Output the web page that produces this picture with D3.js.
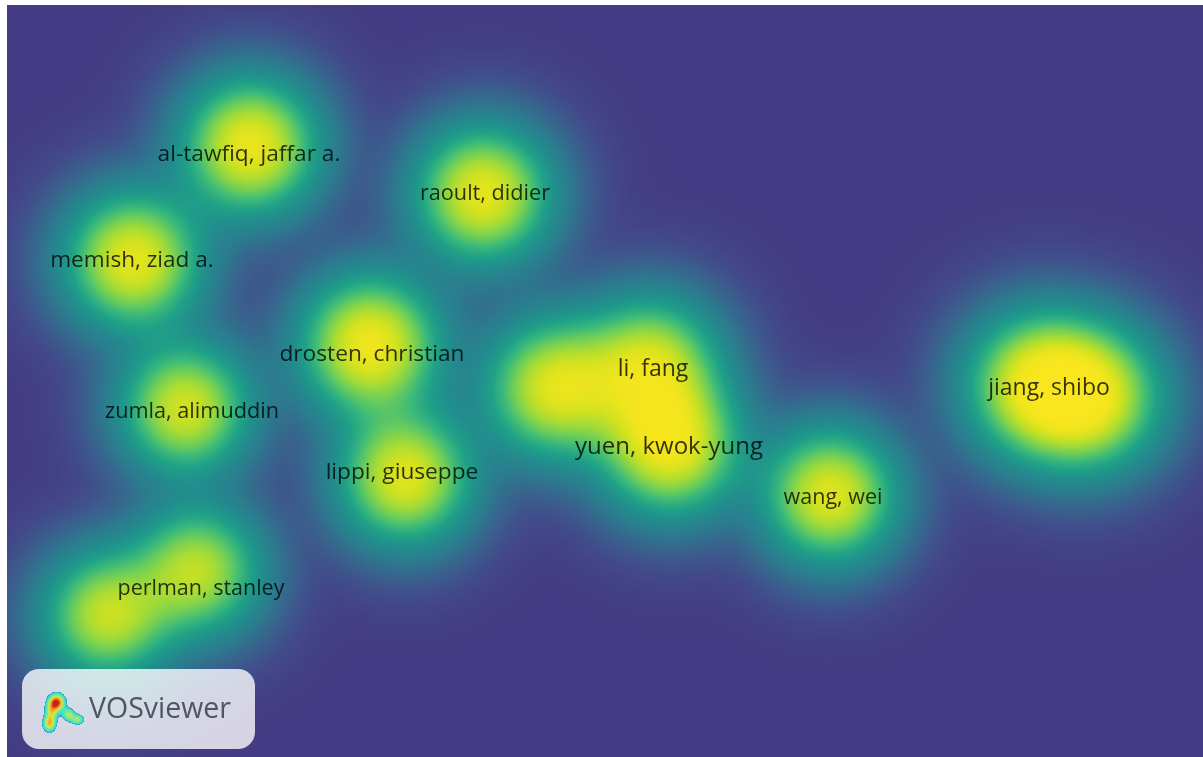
<!DOCTYPE html>
<html><head><meta charset="utf-8">
<script src="https://cdn.jsdelivr.net/npm/d3@7"></script>
<style>
html,body{margin:0;padding:0;background:#fff;overflow:hidden}
#wrap{position:relative;width:1203px;height:757px}
canvas,svg{position:absolute;left:0;top:0}
text{font-family:"Open Sans","Noto Sans",sans-serif}
</style></head><body><div id="wrap"><canvas id="c" width="1203" height="757"></canvas><svg id="s" width="1203" height="757"></svg></div>
<script>
// map coordinates (arbitrary VOS map units, 0-1196 by 0-752)
const nodeX =   [243,476,126,363,178,398,643,548,663,823,1030,1083,190,100];
const nodeY =   [141,189,255,340,403,472,360,383,440,490,380,392,565,610];
const nodeW =   [0.90,0.88,0.88,0.92,0.82,0.86,0.80,0.85,0.90,0.86,0.84,0.84,0.76,0.78];
const nodeS =   [51,51,51,52,49,50,52,52,52,50,54,54,49,49];
const labels =  ["al-tawfiq, jaffar a.","raoult, didier","memish, ziad a.","drosten, christian","zumla, alimuddin","lippi, giuseppe","li, fang","yuen, kwok-yung","wang, wei","jiang, shibo","perlman, stanley"];
const labelX =  [242,478,125,365,185,395,646,662,826,1042,194];
const labelY =  [150,189,256,350,407,468,365,443,493,384,584];
const labelSz = [22.7,21.7,22.6,22.7,21.7,22.7,23,24,21.5,23,21.5];
const colorDomain = [0,0.04,0.1,0.2,0.32,0.42,0.52,0.62,0.72,0.82,0.92,1.05];
const colorRange = ["#443c84","#424a8a","#3a5f8d","#2c7a8e","#218e8d","#1fa187","#3bb97a","#6ece58","#a5db36","#d2e21f","#f0e51d","#fae61f"];
const logoX = [14,9,7,26,35];
const logoY = [15,24,36,27,32];
const logoW = [1.05,0.5,0.68,0.5,0.48];
const logoSx= [5.2,4.2,4.2,4.2,4.4];
const logoSy= [5.4,6,5.4,4.2,3.4];
const logoStopsD=[0,0.08,0.22,0.45,0.7,0.9];
const logoStopsC=["#2a9fb5","#3ad8da","#62e8a8","#dce83a","#f08c20","#c81e1e"];

const ox=7, oy=5, W=1196, H=752, P=1.5;
const xS=d3.scaleLinear().domain([0,W]).range([ox,ox+W]);
const yS=d3.scaleLinear().domain([0,H]).range([oy,oy+H]);
const col=d3.scaleLinear().domain(colorDomain).range(colorRange).clamp(true);
const ctx=document.getElementById('c').getContext('2d');
const img=ctx.createImageData(W,H);
const lut=d3.range(1101).map(i=>d3.rgb(col(i/1000)));
for(let j=0;j<H;j++)for(let i=0;i<W;i++){
  let v=0;const px=i+ox,py=j+oy;
  for(let k=0;k<nodeX.length;k++){
    const dx=px-xS(nodeX[k]),dy=py-yS(nodeY[k]),s=nodeS[k];
    const g=nodeW[k]*Math.exp(-(dx*dx+dy*dy)/(2*s*s));
    v+=Math.pow(g,P);
  }
  v=Math.pow(v,1/P);
  const c=lut[Math.min(1100,Math.round(v*1000))],o=(j*W+i)*4;
  img.data[o]=c.r;img.data[o+1]=c.g;img.data[o+2]=c.b;img.data[o+3]=255;
}
ctx.putImageData(img,ox,oy);

// watermark panel
ctx.fillStyle="rgba(255,255,255,0.78)";
ctx.beginPath();ctx.roundRect(22,669,233,80,17);ctx.fill();
// logo heat blob
const lx=d3.scaleLinear().domain([0,40]).range([42,82]);
const ly=d3.scaleLinear().domain([0,46]).range([687,733]);
const lc=d3.scaleLinear().domain(logoStopsD).range(logoStopsC).clamp(true);
const lImg=ctx.getImageData(36,681,52,58);
for(let j=0;j<58;j++)for(let i=0;i<52;i++){
  let v=0;
  for(let k=0;k<logoX.length;k++){
    const dx=(i+36-lx(logoX[k]))/logoSx[k],dy=(j+681-ly(logoY[k]))/logoSy[k];
    v+=logoW[k]*Math.exp(-(dx*dx+dy*dy)/2);
  }
  if(v>0.14){const c=d3.rgb(lc(v-0.14)),o=(j*52+i)*4;
    lImg.data[o]=c.r;lImg.data[o+1]=c.g;lImg.data[o+2]=c.b;}
}
ctx.putImageData(lImg,36,681);

const svg=d3.select('#s');
svg.selectAll('text.l').data(labels).join('text').attr('class','l')
 .attr('x',(d,i)=>xS(labelX[i])).attr('y',(d,i)=>yS(labelY[i]))
 .attr('text-anchor','middle').attr('dominant-baseline','middle')
 .attr('font-size',(d,i)=>labelSz[i]).attr('fill','#000').attr('fill-opacity',0.78).text(d=>d);
svg.append('text').attr('x',89).attr('y',718).attr('font-size',28.5).attr('fill','#50565f').text('VOSviewer');
</script></body></html>
